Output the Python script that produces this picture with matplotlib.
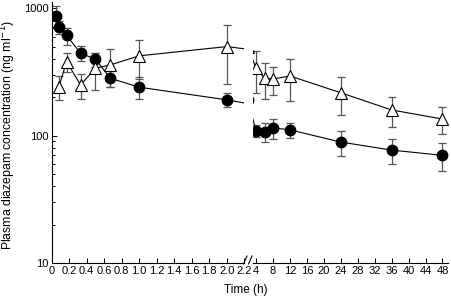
import numpy as np
import matplotlib
matplotlib.use('Agg')
import matplotlib.pyplot as plt
from matplotlib.ticker import LogLocator, NullFormatter, FixedLocator

plt.rcParams['font.family'] = ['Liberation Sans', 'DejaVu Sans']
plt.rcParams['font.size'] = 8

# circles (filled)
t_circ = [0.05, 0.083, 0.17, 0.33, 0.5, 0.67, 1.0, 2.0, 4, 6, 8, 12, 24, 36, 48]
c_circ = [877, 711, 611, 444, 398, 282, 240, 191, 109, 107, 115, 111, 89, 77, 70]
sd_circ = [170, 80, 95, 62, 50, 42, 47, 24, 12, 18, 21, 15, 20, 17, 17]

# triangles (open)
t_tri = [0.083, 0.17, 0.33, 0.5, 0.67, 1.0, 2.0, 4, 6, 8, 12, 24, 36, 48]
c_tri = [242, 381, 250, 338, 359, 423, 500, 338, 282, 278, 294, 217, 159, 135]
sd_tri = [50, 65, 55, 110, 118, 143, 245, 120, 88, 70, 107, 72, 43, 32]

left_ticks = [0, 0.2, 0.4, 0.6, 0.8, 1.0, 1.2, 1.4, 1.6, 1.8, 2.0, 2.2]
left_labels = ['0', '0.2', '0.4', '0.6', '0.8', '1.0', '1.2', '1.4', '1.6', '1.8', '2.0', '2.2']
right_ticks = [4, 8, 12, 16, 20, 24, 28, 32, 36, 40, 44, 48]

fig = plt.figure(figsize=(4.51, 2.99), dpi=100)
ax1 = fig.add_axes([0.1146, 0.1204, 0.4268, 0.873])
ax2 = fig.add_axes([0.5603, 0.1204, 0.4320, 0.873])

for ax in (ax1, ax2):
    ax.errorbar(t_tri, c_tri, yerr=sd_tri, fmt='none', ecolor='#555555',
                elinewidth=0.9, capsize=2.6, capthick=0.9, zorder=2)
    ax.errorbar(t_circ, c_circ, yerr=sd_circ, fmt='none', ecolor='#555555',
                elinewidth=0.9, capsize=2.6, capthick=0.9, zorder=2)
    ax.plot(t_circ, c_circ, color='black', lw=0.8, marker='o', ms=7.5,
            mfc='black', mec='black', zorder=3)
    ax.plot(t_tri, c_tri, color='black', lw=0.8, marker='^', ms=8.5,
            mfc='white', mec='black', mew=0.8, zorder=4)
    ax.set_yscale('log')
    ax.set_ylim(10, 1120)
    ax.spines['top'].set_visible(False)
    ax.spines['right'].set_visible(False)
    ax.spines['bottom'].set_linewidth(0.8)
    ax.spines['left'].set_linewidth(0.8)
    ax.tick_params(which='both', direction='in', width=0.7, pad=2)
    ax.tick_params(which='major', length=3.5)
    ax.tick_params(which='minor', length=2)

ax1.set_xlim(0, 2.2)
ax1.xaxis.set_major_locator(FixedLocator(left_ticks))
ax1.set_xticklabels(left_labels)
ax1.yaxis.set_major_locator(FixedLocator([10, 100, 1000]))
ax1.set_yticklabels(['10', '100', '1000'])
ax1.yaxis.set_minor_locator(LogLocator(base=10, subs=np.arange(2, 10)))
ax1.yaxis.set_minor_formatter(NullFormatter())

ax2.set_xlim(3.2, 49.2)
ax2.xaxis.set_major_locator(FixedLocator(right_ticks))
ax2.set_xticklabels([str(v) for v in right_ticks])
ax2.spines['left'].set_visible(False)
ax2.yaxis.set_major_locator(FixedLocator([]))
ax2.yaxis.set_minor_locator(FixedLocator([]))

# break marks
for x0 in (243.5, 248.5):
    fig.add_artist(plt.Line2D([x0 / 451, (x0 + 3.5) / 451],
                              [1 - 264 / 299, 1 - 256 / 299],
                              color='black', lw=0.8, transform=fig.transFigure))

fig.text(8.5 / 451, 1 - 135 / 299, 'Plasma diazepam concentration (ng ml$^{-1}$)',
         rotation=90, ha='center', va='center', fontsize=8.8)
fig.text(246 / 451, 1 - 290 / 299, 'Time (h)', ha='center', va='center', fontsize=8.5)

fig.savefig('out.png', dpi=100)
